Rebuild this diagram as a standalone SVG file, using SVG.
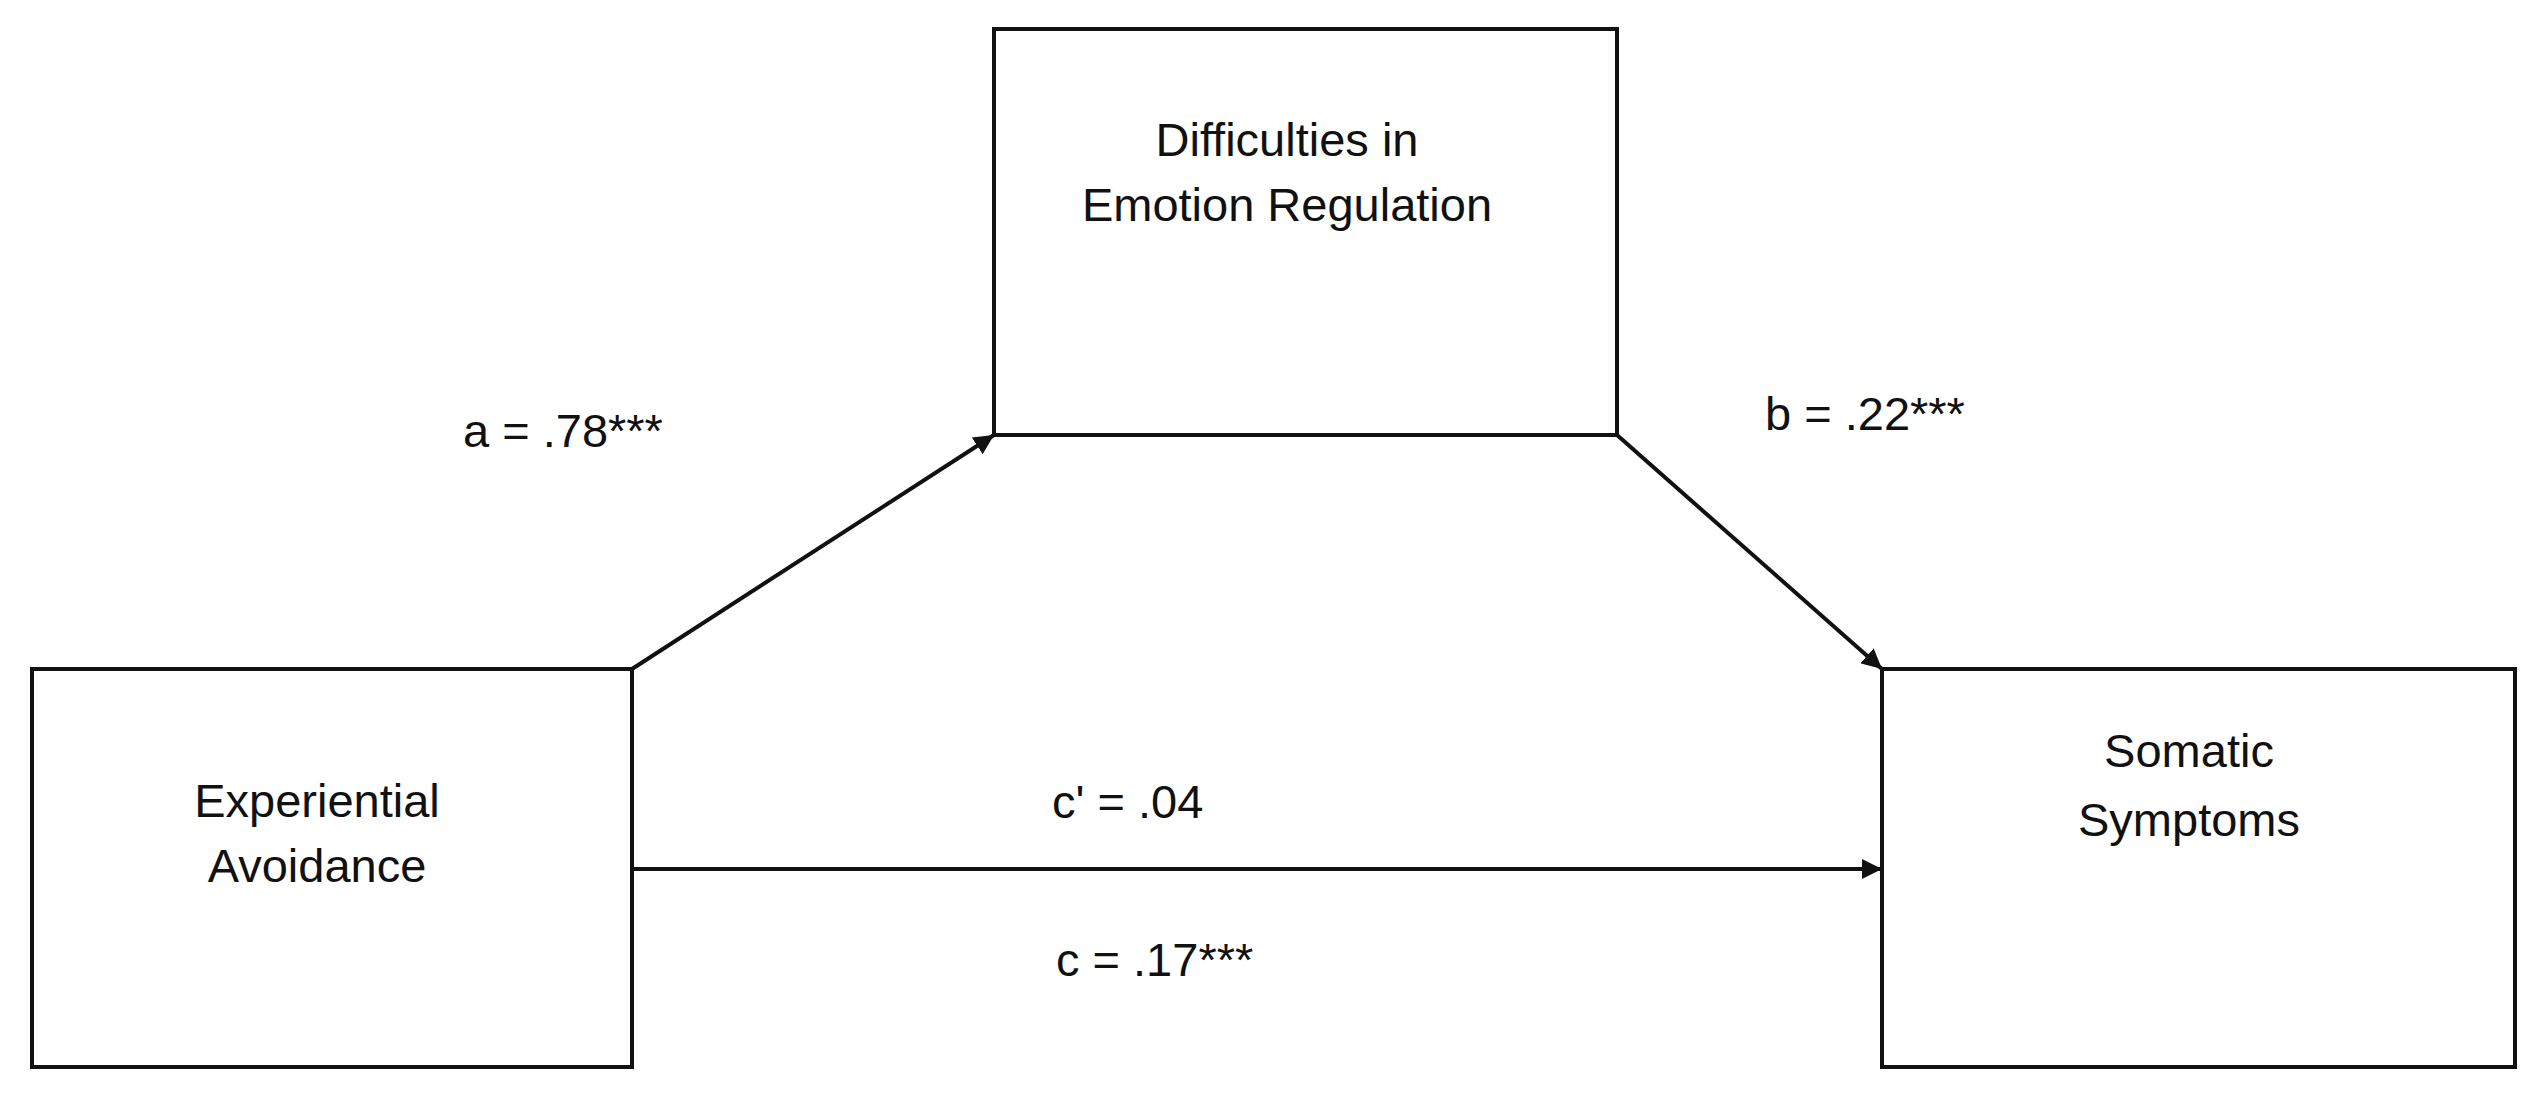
<svg xmlns="http://www.w3.org/2000/svg" width="2546" height="1095" viewBox="0 0 2546 1095">
<style>
.box{fill:#fff;stroke:#111;stroke-width:4}
.t{font-family:"Liberation Sans",Arial,sans-serif;font-size:47px;fill:#111}
.m{text-anchor:middle}
.c{stroke:#111;stroke-width:4;fill:none;marker-end:url(#ah)}
</style>
<defs><marker id="ah" viewBox="0 0 10 10" refX="10" refY="5" markerWidth="5" markerHeight="5" orient="auto" markerUnits="strokeWidth"><path d="M0,0L10,5L0,10z" fill="#111"/></marker></defs>
<rect width="2546" height="1095" fill="#fff"/>
<g id="mediator"><rect class="box" x="994" y="29" width="623" height="406"/>
<text class="t m" x="1287" y="156">Difficulties in</text><text class="t m" x="1287" y="221">Emotion Regulation</text></g>
<g id="predictor"><rect class="box" x="32" y="669" width="600" height="398"/>
<text class="t m" x="317" y="817">Experiential</text><text class="t m" x="317" y="882">Avoidance</text></g>
<g id="outcome"><rect class="box" x="1882" y="669" width="633" height="398"/>
<text class="t m" x="2189" y="767">Somatic</text><text class="t m" x="2189" y="836">Symptoms</text></g>
<g id="connectors">
<line class="c" x1="632" y1="669" x2="994" y2="435"/>
<line class="c" x1="1617" y1="435" x2="1882" y2="669"/>
<line class="c" x1="632" y1="869" x2="1882" y2="869"/>
</g>
<g id="labels">
<text class="t" x="463" y="447">a = .78***</text>
<text class="t" x="1765" y="430">b = .22***</text>
<text class="t" x="1052" y="818">c' = .04</text>
<text class="t" x="1056" y="976">c = .17***</text>
</g>
</svg>
